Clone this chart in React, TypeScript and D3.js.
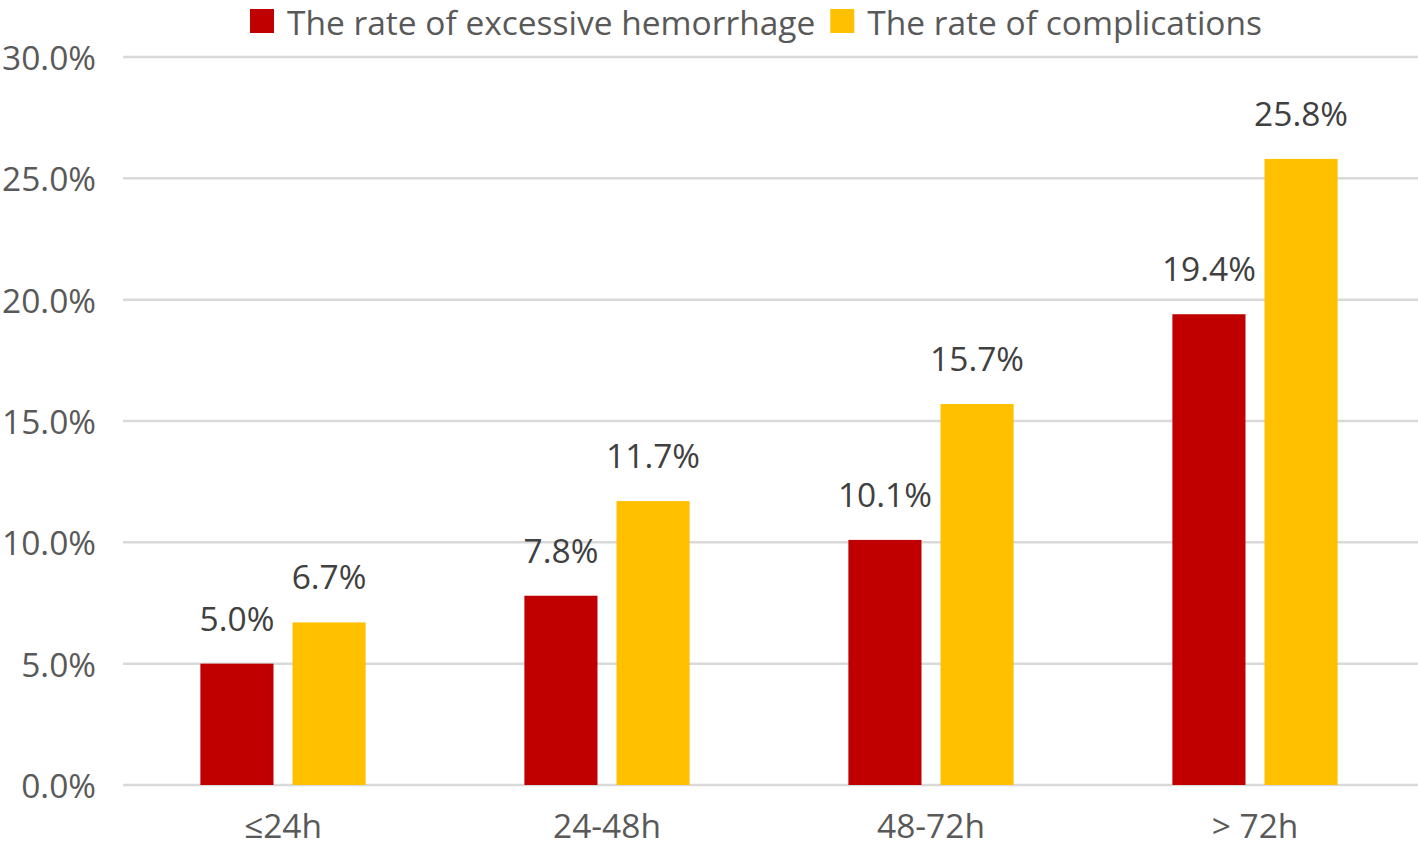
import * as d3 from "d3";
import React, { useEffect, useRef } from "react";

const categories = ["≤24h", "24-48h", "48-72h", "> 72h"];
const seriesNames = ["The rate of excessive hemorrhage", "The rate of complications"];
const hemorrhage = [5.0, 7.8, 10.1, 19.4];
const complications = [6.7, 11.7, 15.7, 25.8];
const yTicks = [0, 5, 10, 15, 20, 25, 30];

const colorRed = "#C00000";
const colorYellow = "#FFC000";
const colorGrid = "#D9D9D9";
const colorText = "#595959";
const colorLabel = "#404040";
const fontFamily = "'Open Sans', 'Noto Sans', sans-serif";
const fontSize = 33.5;

const App = () => {
  const container = useRef<SVGSVGElement | null>(null);

  useEffect(() => {
    const width = 1418;
    const height = 849;
    const margin = { top: 57, right: 1, bottom: 64, left: 121 };

    const svg = d3.select(container.current);
    svg.selectAll("*").remove();

    const x0 = d3
      .scaleBand()
      .domain(categories)
      .range([margin.left, width - margin.right])
      .paddingInner(0.49)
      .paddingOuter(0.245);

    const x1 = d3
      .scaleBand()
      .domain(seriesNames)
      .range([0, x0.bandwidth()])
      .paddingInner(19 / 92);

    const y = d3
      .scaleLinear()
      .domain([0, 30])
      .range([height - margin.bottom, margin.top]);

    // grid lines
    svg
      .append("g")
      .selectAll("line")
      .data(yTicks)
      .enter()
      .append("line")
      .attr("x1", margin.left + 2)
      .attr("x2", width)
      .attr("y1", (d) => y(d))
      .attr("y2", (d) => y(d))
      .attr("stroke", colorGrid)
      .attr("stroke-width", 2.5);

    // y tick labels
    svg
      .append("g")
      .selectAll("text")
      .data(yTicks)
      .enter()
      .append("text")
      .attr("x", 96)
      .attr("y", (d) => y(d) + 13)
      .attr("text-anchor", "end")
      .attr("font-family", fontFamily)
      .attr("font-size", fontSize)
      .attr("fill", colorText)
      .text((d) => `${d.toFixed(1)}%`);

    // x labels
    svg
      .append("g")
      .selectAll("text")
      .data(categories)
      .enter()
      .append("text")
      .attr("x", (d) => x0(d)! + x0.bandwidth() / 2)
      .attr("y", 838)
      .attr("text-anchor", "middle")
      .attr("font-family", fontFamily)
      .attr("font-size", fontSize)
      .attr("fill", colorText)
      .text((d) => d);

    const series = [
      { name: seriesNames[0], values: hemorrhage, color: colorRed },
      { name: seriesNames[1], values: complications, color: colorYellow },
    ];

    series.forEach((s) => {
      const g = svg.append("g");
      g.selectAll("rect")
        .data(s.values)
        .enter()
        .append("rect")
        .attr("x", (d, i) => x0(categories[i])! + x1(s.name)!)
        .attr("y", (d) => y(d))
        .attr("width", x1.bandwidth())
        .attr("height", (d) => y(0) - y(d))
        .attr("fill", s.color);

      g.selectAll("text")
        .data(s.values)
        .enter()
        .append("text")
        .attr("x", (d, i) => x0(categories[i])! + x1(s.name)! + x1.bandwidth() / 2)
        .attr("y", (d) => y(d) - 33)
        .attr("text-anchor", "middle")
        .attr("font-family", fontFamily)
        .attr("font-size", fontSize)
        .attr("fill", colorLabel)
        .text((d) => `${d.toFixed(1)}%`);
    });

    // legend
    const legend = svg.append("g").attr("transform", "translate(250,0)");
    let cursor = 0;
    series.forEach((s) => {
      const item = legend.append("g").attr("transform", `translate(${cursor},0)`);
      item
        .append("rect")
        .attr("x", 0)
        .attr("y", 9)
        .attr("width", 24)
        .attr("height", 24)
        .attr("fill", s.color);
      const t = item
        .append("text")
        .attr("x", 37)
        .attr("y", 35)
        .attr("font-family", fontFamily)
        .attr("font-size", fontSize)
        .attr("fill", colorText)
        .text(s.name);
      const w = (t.node() as SVGTextElement).getComputedTextLength();
      cursor += 37 + w + 15;
    });
  }, []);

  return (
    <svg
      ref={container}
      width={1418}
      height={849}
      style={{ position: "absolute", left: 0, top: 0, background: "#fff" }}
    />
  );
};

export default App;
